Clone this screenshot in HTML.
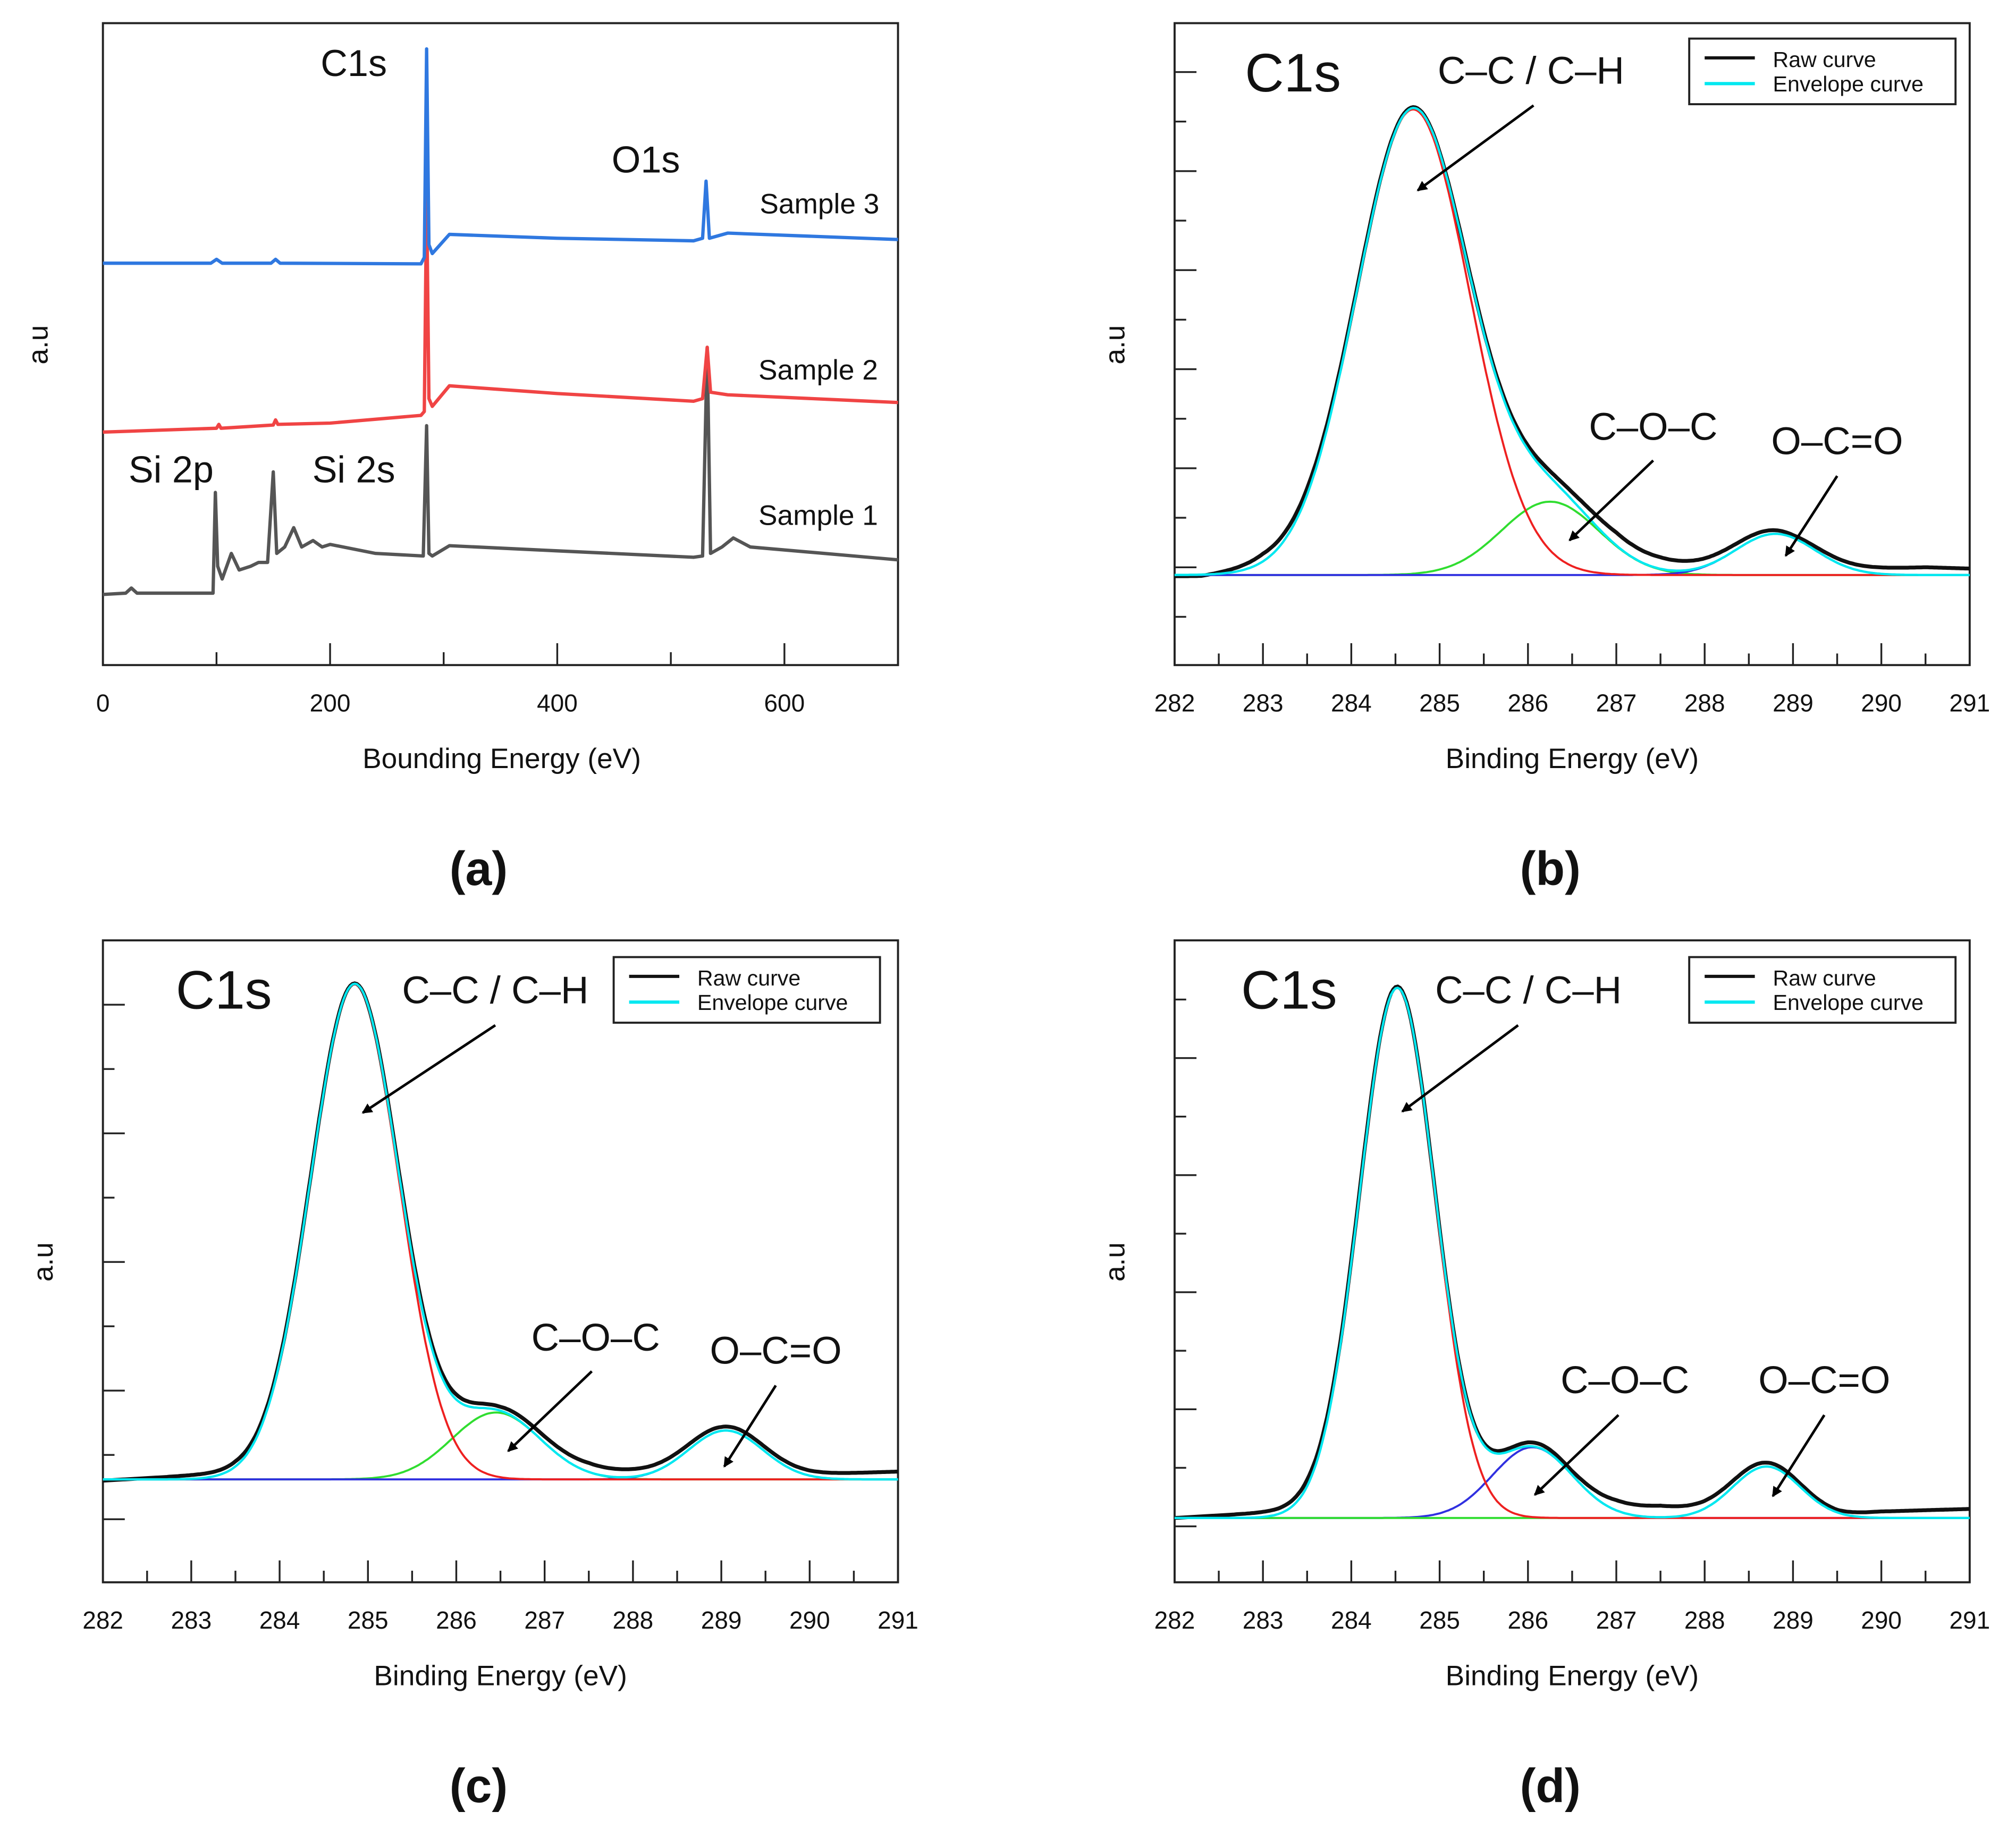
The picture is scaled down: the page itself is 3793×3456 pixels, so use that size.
<!DOCTYPE html>
<html><head><meta charset="utf-8"><style>
html,body{margin:0;padding:0;background:#fff}
svg{display:block}
text{font-family:"Liberation Sans",sans-serif;fill:#111}
</style></head><body>
<svg id="fig" width="3793" height="3456" viewBox="0 0 1567 1428" preserveAspectRatio="none" xmlns="http://www.w3.org/2000/svg">
<defs><marker id="ah" markerWidth="8" markerHeight="8" refX="7" refY="4" orient="auto" markerUnits="userSpaceOnUse"><path d="M0,0 L8,4 L0,8 z" fill="#000"/></marker></defs>
</svg>
<script>
// ---- Panel (a) survey data (energy eV, intensity a.u.) ----
const s3E=[0,95,100,105,148,152,156,280,283,285,287,290,305,400,520,528,531,534,550,700];
const s3I=[62.6,62.6,63.2,62.6,62.6,63.2,62.6,62.5,63.5,96,65.5,64.1,67.1,66.5,66.1,66.5,75.4,66.5,67.3,66.3];
const s2E=[0,100,102,104,150,152,154,200,280,283,285,287,290,305,400,520,528,532,535,550,700];
const s2I=[36.3,36.9,37.5,36.9,37.4,38.2,37.5,37.7,38.9,39.5,73.5,41.5,40.3,43.5,42.3,41.1,41.5,49.5,42.5,42.1,40.9];
const s1E=[0,20,25,30,97,99,101,105,113,120,130,137,145,150,153,160,168,175,185,193,200,240,282,285,287,290,305,400,520,528,532,535,545,555,570,700];
const s1I=[11,11.2,12,11.2,11.2,26.9,15.4,13.4,17.4,14.8,15.4,16,16,30.1,17.4,18.4,21.4,18.4,19.4,18.4,18.8,17.4,17,37.3,17.4,17,18.6,17.8,16.8,17,49.5,17.4,18.4,19.8,18.4,16.4];
const aTicks=[0,200,400,600];
const aMinor=[100,300,500];
// ---- Panel (b) ----
const bCenters=[284.7,286.25,288.8];
const bHeights=[362,57,32];
const bSigmas=[0.64,0.55,0.45];
const bRawE=[282,282.3,283,283.5,284,285,286,286.5,287,287.5,288,289,290,290.5,291];
const bRawOff=[-1,-1,6,5,2,0,3,6,10,9,6,2,5,6,5];
// ---- Panel (c) ----
const cCenters=[284.85,286.45,289.05];
const cHeights=[385,52,38];
const cSigmas=[0.5,0.5,0.42];
const cRawE=[282,283,283.5,284,285,286,286.5,287,287.5,288,289,290,291];
const cRawOff=[-1,3,4,2,0,4,3,5,7,6,3,4,6];
// ---- Panel (d) ----
const dCenters=[284.52,286.05,288.7];
const dHeights=[412,55,40];
const dSigmas=[0.43,0.45,0.38];
const dRawE=[282,283,283.5,284,285,286,286.5,287,287.5,288,288.7,289.5,290,291];
const dRawOff=[0,4,5,2,0,3,3,8,9,6,3,2,5,7];
const hrTicks=[282,283,284,285,286,287,288,289,290,291];

const svg=document.getElementById('fig');
const NS='http://www.w3.org/2000/svg';
function mk(tag,attrs,parent){const e=document.createElementNS(NS,tag);for(const k in attrs)e.setAttribute(k,attrs[k]);(parent||svg).appendChild(e);return e;}
function txt(s,x,y,size,attrs,parent){const t=mk('text',Object.assign({x:x,y:y,'font-size':size},attrs||{}),parent);t.textContent=s;return t;}
function interp(xs,ys,x){if(x<=xs[0])return ys[0];for(let i=1;i<xs.length;i++){if(x<=xs[i]){const f=(x-xs[i-1])/(xs[i]-xs[i-1]);return ys[i-1]+f*(ys[i]-ys[i-1]);}}return ys[ys.length-1];}
function g(x,c,h,s){return h*Math.exp(-0.5*((x-c)/s)**2);}

// ---- Panel (a) ----
(function(){
  const L=80,R=698,T=18,B=517;
  const grp=mk('g',{});
  
  
  const xs=v=>L+(v-0)/(700)*(R-L);
  const ys=v=>B-v*(B-T)/100;
  const box=mk('rect',{x:L,y:T,width:R-L,height:B-T,fill:'none',stroke:'#222','stroke-width':1.6},grp);
  
  
  aTicks.forEach(t=>{mk('line',{x1:xs(t),x2:xs(t),y1:B,y2:B-17,stroke:'#222','stroke-width':1.4},grp);
    const lb=txt(String(t),xs(t),553,19,{'text-anchor':'middle'},grp);
    
    });
  aMinor.forEach(t=>mk('line',{x1:xs(t),x2:xs(t),y1:B,y2:B-10,stroke:'#222','stroke-width':1.4},grp));
  const series=[[s1E,s1I,'#555555','sample-1-line'],[s2E,s2I,'#f04444','sample-2-line'],[s3E,s3I,'#2f78e0','sample-3-line']];
  series.forEach(s=>{const p=mk('polyline',{points:s[0].map((e,i)=>xs(e).toFixed(1)+','+ys(s[1][i]).toFixed(1)).join(' '),fill:'none',stroke:s[2],'stroke-width':2.6,'stroke-linejoin':'round'},grp);
    
    });
  const labs=[['C1s',275,59,29,'c1s-label'],['O1s',502,134,29,'o1s-label'],['Sample 3',637,166,22,'sample-3-label'],['Sample 2',636,295,22,'sample-2-label'],['Sample 1',636,408,22,'sample-1-label'],['Si 2p',133,375,29,'si2p-label'],['Si 2s',275,375,29,'si2s-label']];
  labs.forEach(l=>{const t=txt(l[0],l[1],l[2],l[3],{'text-anchor':'middle'},grp);
    
    });
  const xt=txt('Bounding Energy (eV)',390,597,22,{'text-anchor':'middle'},grp);
  
  
  const yt=txt('a.u',0,0,22,{'text-anchor':'middle',transform:'translate(37,268) rotate(-90)'},grp);
  
  
  const cap=txt('(a)',372,688,37,{'text-anchor':'middle','font-weight':'bold'},grp);
  
  
})();

function hrPanel(o){
  const L=o.L,R=L+618,T=o.T,B=T+499,base=o.base;
  const grp=mk('g',{});
  
  
  const xs=v=>L+(v-282)/9*(R-L);
  const ys=v=>base-v;
  const box=mk('rect',{x:L,y:T,width:R-L,height:B-T,fill:'none',stroke:'#222','stroke-width':1.6},grp);
  
  
  hrTicks.forEach(t=>{mk('line',{x1:xs(t),x2:xs(t),y1:B,y2:B-17,stroke:'#222','stroke-width':1.4},grp);
    if(t<291)mk('line',{x1:xs(t+0.5),x2:xs(t+0.5),y1:B,y2:B-9,stroke:'#222','stroke-width':1.4},grp);
    const lb=txt(String(t),xs(t),B+36,19,{'text-anchor':'middle'},grp);
    
    });
  for(let i=0;i<o.ny;i++){const y=o.y0+i*o.dy;const maj=(i%2===0)===o.majEven;
    mk('line',{x1:L,x2:L+(maj?17:9),y1:y,y2:y,stroke:'#222','stroke-width':1.4},grp);}
  const cols=o.cols;
  const N=360,env=[],raw=[],comp=[[],[],[]];
  for(let i=0;i<=N;i++){const e=282+9*i/N;let s=0;
    for(let k=0;k<3;k++){const v=g(e,o.c[k],o.h[k],o.s[k]);s+=v;comp[k].push(xs(e).toFixed(1)+','+ys(v).toFixed(1));}
    env.push(xs(e).toFixed(1)+','+ys(s).toFixed(1));
    raw.push(xs(e).toFixed(1)+','+ys(s+interp(o.rE,o.rO,e)).toFixed(1));}
  const rl=mk('polyline',{points:raw.join(' '),fill:'none',stroke:'#111','stroke-width':3},grp);
  
  
  const names=['cc-ch-component','coc-component','oco-component'];
  [1,2,0].forEach(k=>{const p=mk('polyline',{points:comp[k].join(' '),fill:'none',stroke:cols[k],'stroke-width':1.6},grp);
    
    });
  const el=mk('polyline',{points:env.join(' '),fill:'none',stroke:'#00e8f0','stroke-width':1.8},grp);
  
  
  const lg=mk('g',{},grp);
  
  
  mk('rect',{x:o.lx,y:o.ly,width:207,height:51,fill:'#fff',stroke:'#222','stroke-width':1.6},lg);
  mk('line',{x1:o.lx+12,x2:o.lx+51,y1:o.ly+15,y2:o.ly+15,stroke:'#111','stroke-width':2.5},lg);
  mk('line',{x1:o.lx+12,x2:o.lx+51,y1:o.ly+35,y2:o.ly+35,stroke:'#00e8f0','stroke-width':2.5},lg);
  const t1=txt('Raw curve',o.lx+65,o.ly+22,17,{},lg);
  
  
  const t2=txt('Envelope curve',o.lx+65,o.ly+41,17,{},lg);
  
  
  o.labels.forEach(l=>{const t=txt(l[0],l[1],l[2],l[3],{'text-anchor':'middle'},grp);
    
    });
  o.arrows.forEach(a=>{const ar=mk('line',{x1:a[0],y1:a[1],x2:a[2],y2:a[3],stroke:'#000','stroke-width':2,'marker-end':'url(#ah)'},grp);
    
    });
  const xt=txt('Binding Energy (eV)',(L+R)/2,B+80,22,{'text-anchor':'middle'},grp);
  
  
  const yt=txt('a.u',0,0,22,{'text-anchor':'middle',transform:'translate('+(L-39)+','+(T+250)+') rotate(-90)'},grp);
  
  
  const cap=txt('('+o.id+')',o.capX,o.capY,37,{'text-anchor':'middle','font-weight':'bold'},grp);
  
  
}
hrPanel({id:'b',L:913,T:18,base:447,c:bCenters,h:bHeights,s:bSigmas,rE:bRawE,rO:bRawOff,cols:['#ee2020','#30dd30','#3030e0'],
  y0:56,dy:38.5,ny:12,majEven:true,lx:1313,ly:30,
  labels:[['C1s',1005,71,42,'c1s-title'],['C–C / C–H',1190,65,30,'cc-ch-label'],['C–O–C',1285,342,30,'coc-label'],['O–C=O',1428,353,30,'oco-label']],
  arrows:[[1192,82,1102,148],[1285,358,1220,420],[1428,370,1388,432]],capX:1205,capY:688});
hrPanel({id:'c',L:80,T:731,base:1150,c:cCenters,h:cHeights,s:cSigmas,rE:cRawE,rO:cRawOff,cols:['#ee2020','#30dd30','#3030e0'],
  y0:781,dy:50,ny:9,majEven:true,lx:477,ly:744,
  labels:[['C1s',174,784,42,'c1s-title'],['C–C / C–H',385,780,30,'cc-ch-label'],['C–O–C',463,1050,30,'coc-label'],['O–C=O',603,1060,30,'oco-label']],
  arrows:[[385,797,282,865],[460,1066,395,1128],[603,1077,563,1140]],capX:372,capY:1401});
hrPanel({id:'d',L:913,T:731,base:1180,c:dCenters,h:dHeights,s:dSigmas,rE:dRawE,rO:dRawOff,cols:['#ee2020','#3030e0','#30dd30'],
  y0:777,dy:45.5,ny:10,majEven:false,lx:1313,ly:744,
  labels:[['C1s',1002,784,42,'c1s-title'],['C–C / C–H',1188,780,30,'cc-ch-label'],['C–O–C',1263,1083,30,'coc-label'],['O–C=O',1418,1083,30,'oco-label']],
  arrows:[[1180,797,1090,864],[1258,1100,1193,1162],[1418,1100,1378,1163]],capX:1205,capY:1401});
</script>
</body></html>
